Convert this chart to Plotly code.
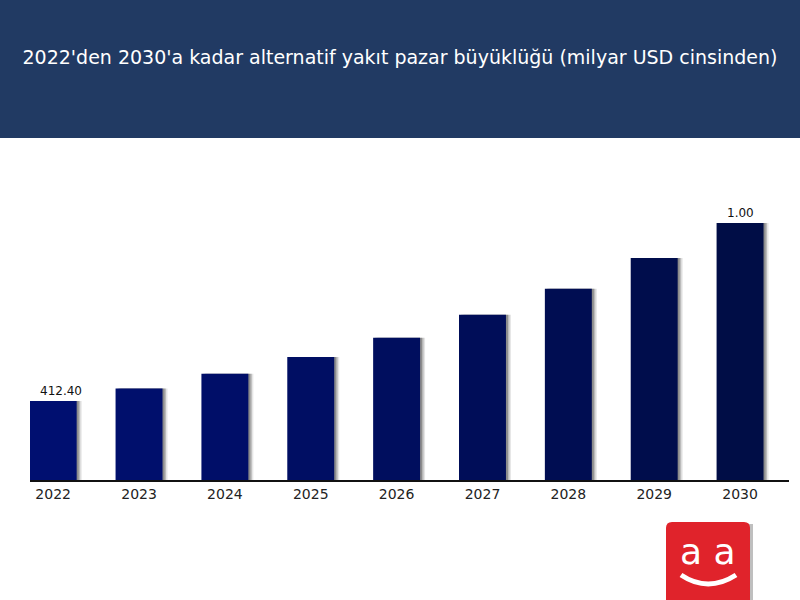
import plotly.graph_objects as go

years = ["2022", "2023", "2024", "2025", "2026", "2027", "2028", "2029", "2030"]
market_size = [412.40, 478, 554, 642, 742, 862, 998, 1159, 1341]
bar_labels = ["412.40", "", "", "", "", "", "", "", "1.00"]
bar_colors = ["#000F70", "#000F6C", "#000E68", "#000E63", "#000E5E", "#000D58", "#000D52", "#000D4C", "#000D46"]

W, H = 800, 600
ML, MR, MT, MB = 30, 11, 200, 120
PW, PH = W - ML - MR, H - MT - MB


def px(x):
    return (x - ML) / PW


def py(y):
    return (H - MB - y) / PH


fig = go.Figure()

# soft drop shadow layers behind bars
for off, alpha in [(5, 0.10), (3.5, 0.18), (2, 0.25)]:
    fig.add_trace(go.Bar(
        x=years, y=market_size, width=0.547, offset=-0.2735 + off / 85.9,
        marker=dict(color=f"rgba(0,0,0,{alpha})", line=dict(width=0)),
        hoverinfo="skip", showlegend=False,
    ))

fig.add_trace(go.Bar(
    x=years, y=market_size, width=0.547, offset=-0.2735,
    marker=dict(color=bar_colors, line=dict(width=0)),
    showlegend=False,
))

annotations = []
for i, (val, lab) in enumerate(zip(market_size, bar_labels)):
    if lab:
        annotations.append(dict(
            text=lab, x=i, y=val, xref="x", yref="y", showarrow=False,
            yanchor="bottom", xanchor="center", yshift=1, xshift=8 if i == 0 else 0,
            font=dict(size=12, color="#111111", family="DejaVu Sans"),
        ))

shapes = [
    # title banner
    dict(type="rect", xref="paper", yref="paper", x0=px(-5), x1=px(805), y0=py(138), y1=py(-5),
         fillcolor="#213A63", line=dict(width=0), layer="below"),
    # logo shadow
    dict(type="rect", xref="paper", yref="paper", x0=px(669), x1=px(753), y0=py(605), y1=py(524),
         fillcolor="rgba(0,0,0,0.25)", line=dict(width=0)),
    # logo box
    dict(type="path", xref="paper", yref="paper",
         path=(f"M {px(672)},{py(522)} L {px(744)},{py(522)} Q {px(750)},{py(522)} {px(750)},{py(528)} "
               f"L {px(750)},{py(605)} L {px(666)},{py(605)} L {px(666)},{py(528)} "
               f"Q {px(666)},{py(522)} {px(672)},{py(522)} Z"),
         fillcolor="#E0232B", line=dict(width=0)),
    # smile
    dict(type="path", xref="paper", yref="paper",
         path=f"M {px(681)},{py(575)} Q {px(708)},{py(593)} {px(736)},{py(575)}",
         line=dict(color="white", width=5)),
]

annotations.append(
    dict(text="a a", xref="paper", yref="paper", x=px(708), y=py(551), showarrow=False,
         font=dict(size=36, color="white", family="DejaVu Sans"), xanchor="center", yanchor="middle"),
)

fig.update_layout(
    width=W, height=H,
    margin=dict(l=ML, r=MR, t=MT, b=MB),
    paper_bgcolor="white", plot_bgcolor="white",
    barmode="overlay",
    title=dict(text="2022'den 2030'a kadar alternatif yakıt pazar büyüklüğü (milyar USD cinsinden)",
               x=0.5, xanchor="center", y=1 - 57 / H, yanchor="middle",
               font=dict(size=19, color="white", family="DejaVu Sans")),
    xaxis=dict(type="category", range=[-0.27, 8.57], showline=True, linecolor="#111111", linewidth=1.5,
               ticks="", showgrid=False, tickfont=dict(size=14, color="#222222", family="DejaVu Sans")),
    yaxis=dict(range=[0, 1461], visible=False, showgrid=False, zeroline=False),
    shapes=shapes, annotations=annotations,
    font=dict(family="DejaVu Sans"),
)

fig.write_html("out.html", config={"displayModeBar": False},
               post_script="document.body.style.margin='0';document.body.style.overflow='hidden';")
